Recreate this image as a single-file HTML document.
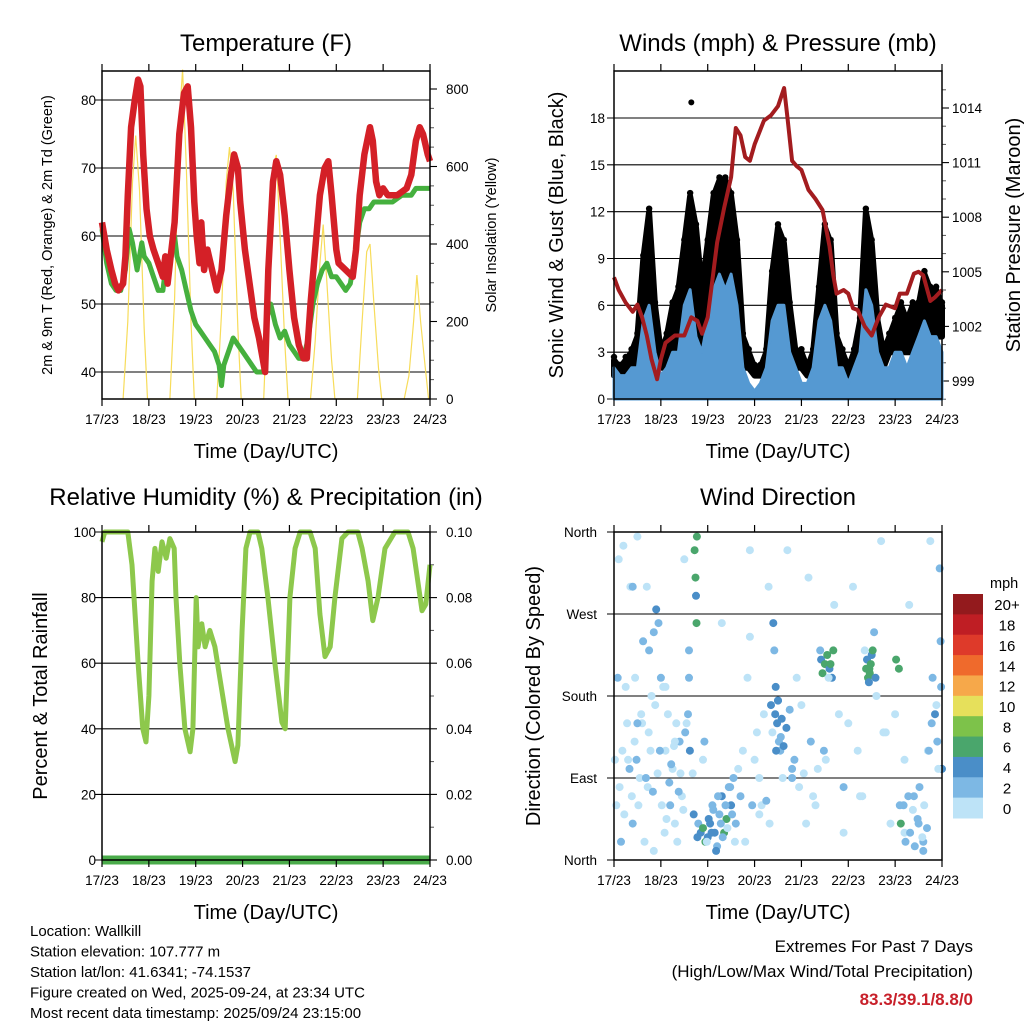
<!DOCTYPE html>
<html><head><meta charset="utf-8">
<style>
html,body{margin:0;padding:0;background:#fff;}
svg{display:block;font-family:"Liberation Sans",sans-serif;}
</style></head>
<body>
<svg id="chart" width="1024" height="1024" viewBox="0 0 1024 1024"></svg>
<script>
// ---------- DATA ----------
const dayLabels = ["17/23","18/23","19/23","20/23","21/23","22/23","23/23","24/23"];
const tempTicks = [40,50,60,70,80];
const solarTicks = [0,200,400,600,800];
const windTicks = [0,3,6,9,12,15,18];
const presTicks = [999,1002,1005,1008,1011,1014];
const rhTicks = [0,20,40,60,80,100];
const rainTicks = ["0.00","0.02","0.04","0.06","0.08","0.10"];
const dirTicks = ["North","East","South","West","North"];
const speedBins = ["0","2","4","6","8","10","12","14","16","18","20+"];

const tempT = [0,0.1,0.2,0.28,0.35,0.45,0.5,0.55,0.62,0.7,0.77,0.82,0.88,0.95,1.02,1.1,1.2,1.3,1.35,1.4,1.45,1.55,1.65,1.75,1.83,1.9,1.97,2.02,2.08,2.12,2.18,2.25,2.35,2.45,2.55,2.65,2.75,2.82,2.9,2.95,3.05,3.15,3.25,3.35,3.48,3.55,3.65,3.72,3.8,3.9,4.0,4.1,4.2,4.3,4.37,4.45,4.55,4.65,4.75,4.83,4.9,5.0,5.05,5.2,5.35,5.42,5.5,5.6,5.66,5.72,5.78,5.85,5.92,6.0,6.1,6.3,6.5,6.6,6.7,6.78,6.85,6.95,7.0];
const tempRed = [62,58,55,53,52,53,57,66,76,80,83,82,72,64,60,58,56,54,57,53,56,62,75,81,82,76,65,60,56,62,55,58,55,52,55,63,69,72,70,65,58,53,48,45,40,55,68,71,69,63,55,48,44,42,42,50,58,66,70,71,66,58,56,55,54,58,66,72,74,76,74,68,66,67,66,66,67,69,74,76,75,72,71];
const dewT = [0,0.1,0.2,0.3,0.4,0.5,0.58,0.65,0.7,0.75,0.85,0.9,1.0,1.1,1.2,1.3,1.35,1.45,1.55,1.6,1.7,1.8,1.9,2.0,2.1,2.2,2.3,2.4,2.5,2.55,2.6,2.7,2.8,2.9,3.0,3.1,3.2,3.3,3.4,3.45,3.52,3.6,3.7,3.8,3.9,4.0,4.1,4.2,4.3,4.4,4.5,4.6,4.7,4.8,4.9,5.0,5.1,5.2,5.3,5.4,5.5,5.6,5.7,5.8,5.9,6.0,6.2,6.4,6.6,6.7,6.8,7.0];
const dewGreen = [61,56,53,52,52,55,61,59,57,55,59,57,56,54,52,52,55,57,60,57,55,52,49,47,46,45,44,43,41,38,41,43,45,44,43,42,41,40,40,40,48,50,47,45,46,44,43,42,42,45,50,53,55,56,54,54,53,52,53,57,62,64,64,65,65,65,65,66,66,67,67,67];
const solarT = [0.45,0.55,0.65,0.72,0.8,0.9,0.97, 1.45,1.55,1.65,1.72,1.8,1.9,1.97, 2.45,2.55,2.65,2.72,2.8,2.9,2.97, 3.45,3.55,3.65,3.72,3.8,3.9,3.97, 4.45,4.55,4.65,4.72,4.8,4.9,4.97, 5.45,5.55,5.65,5.72,5.8,5.9,5.97, 6.45,6.55,6.65,6.72,6.8,6.9,6.97];
const solar = [0,200,560,680,540,180,0, 0,260,720,850,600,200,0, 0,220,560,650,540,180,0, 0,300,600,630,420,150,0, 0,150,350,450,300,100,0, 0,200,380,400,250,80,0, 0,60,200,320,200,80,0];
const gustHi = [2.5,2,2.5,3,4,9,12,6, 3,4,6,7,10,13,11,7, 10,13,14,14,13,10,4,3, 2,2,3,8,11,10,6,3, 3,2,3,7,11,10,4,3, 2,3,5,12,10,5,3,4, 5,6,5,6,6,8,7,7,6];
const gustLo = [1.5,1.5,1.5,2,2,4,5,3, 2,2,3,3,5,6,4,3, 4,6,7,6,6,5,2,2, 1.5,1.5,2,4,5,5,3,2, 2,1.5,2,4,5,4,2.5,2, 1.5,2,3,5,5,3,2,3, 3,3,3,3,4,4,4,4,4];
const windHi = [2,1.5,1.5,2,2,5,6,3, 1.5,2,3,3,6,7,4,3, 5,7,8,7,8,6,2,1, 0.5,1,2,5,6,6,3,2, 1,1,2,5,6,5,2,2, 1,2,3,7,6,3,2,2, 3,3,2,3,4,5,4,4,3];
const gustOutT = [1.65];
const gustOutV = [19];
const presT = [0,0.1,0.25,0.4,0.5,0.6,0.7,0.8,0.92,1.0,1.1,1.3,1.5,1.65,1.78,1.88,2.0,2.2,2.35,2.5,2.6,2.7,2.8,2.9,3.0,3.2,3.35,3.5,3.63,3.7,3.8,3.9,4.0,4.15,4.3,4.45,4.6,4.68,4.75,4.9,5.0,5.1,5.2,5.35,5.5,5.65,5.8,6.0,6.1,6.25,6.4,6.5,6.6,6.75,6.85,7.0];
const presV = [1004.7,1004,1003.3,1002.8,1003.2,1002.5,1001.5,1000.2,999.1,1000.2,1001.1,1001.5,1001.5,1002.5,1002.3,1001.6,1002.5,1006.6,1008.5,1010.2,1012.9,1012.5,1011.3,1011.1,1012,1013.3,1013.6,1014.1,1015.1,1013.5,1011.1,1010.8,1010.6,1009.5,1009,1008.4,1006.4,1004.8,1003.8,1004,1003.8,1003,1002.9,1002,1001.5,1002.5,1003.2,1003,1003.8,1003.8,1004.9,1005,1004.8,1003.4,1003.6,1004];
const rhT = [0,0.06,0.55,0.64,0.77,0.87,0.94,1.0,1.07,1.13,1.2,1.28,1.37,1.45,1.54,1.58,1.66,1.77,1.88,1.94,2.01,2.05,2.13,2.2,2.3,2.41,2.52,2.69,2.84,2.9,2.99,3.07,3.16,3.33,3.41,3.54,3.69,3.84,3.91,4.01,4.12,4.23,4.44,4.55,4.65,4.76,4.87,4.97,5.12,5.25,5.46,5.55,5.68,5.78,5.89,6.04,6.25,6.53,6.64,6.74,6.83,6.91,7.0];
const rhV = [97,100,100,90,60,40,36,50,85,95,88,97,92,98,95,80,60,40,33,40,80,65,72,65,70,65,55,40,30,35,70,95,100,100,95,80,60,42,40,80,95,100,100,95,75,62,65,80,98,100,100,95,85,73,80,95,100,100,95,85,76,78,90];
const rainT = [0,7];
const rainV = [0,0];
const dirT = [0.05,0.1,0.15,0.2,0.3,0.35,0.4,0.45,0.5,0.55,0.6,0.62,0.65,0.7,0.72,0.75,0.78,0.8,0.85,0.9,0.95,1.0,1.05,1.1,1.15,1.2,1.25,1.3,1.35,1.4,1.45,1.5,1.55,1.6,1.7,1.72,1.74,1.75,1.76,1.77,1.78,1.8,1.85,1.9,1.95,2.0,2.05,2.1,2.15,2.2,2.25,2.3,2.35,2.4,2.45,2.5,2.55,2.6,2.65,2.7,2.75,2.8,2.85,2.9,2.95,3.0,3.05,3.1,3.15,3.2,3.3,3.35,3.4,3.42,3.45,3.48,3.5,3.52,3.55,3.6,3.7,3.8,3.9,4.0,4.1,4.2,4.3,4.4,4.42,4.45,4.5,4.55,4.6,4.65,4.7,4.8,4.9,5.0,5.1,5.2,5.3,5.35,5.4,5.42,5.45,5.5,5.55,5.6,5.7,5.8,5.9,6.0,6.1,6.2,6.3,6.4,6.5,6.6,6.7,6.75,6.8,6.85,6.9,6.95,7.0,0.25,0.5,0.85,1.3,1.6,2.9,3.1,3.8,4.15,5.25,6.2,6.6,0.4,1.1,2.3,4.9,5.75,
 0.02,0.08,0.12,0.18,0.22,0.28,0.33,0.38,0.44,0.48,0.52,0.58,0.68,0.74,0.83,0.88,0.93,0.98,1.02,1.08,1.12,1.18,1.22,1.28,1.33,1.38,1.42,1.48,1.52,1.58,1.62,1.68,1.9,1.93,1.98,2.02,2.08,2.12,2.18,2.22,2.28,2.32,2.38,2.42,2.48,2.52,2.58,3.25,3.32,3.38,3.44,3.46,3.5,3.56,3.58,3.62,3.68,3.75,3.85,3.95,4.05,4.25,4.35,4.48,4.52,4.58,4.62,4.68,5.38,5.44,5.46,5.48,5.52,5.58,6.02,6.08,6.12,6.18,6.22,6.28,6.32,6.38,6.42,6.48,6.52,6.58,6.62,6.68,6.72,6.78,6.88,6.92,6.98,6.97];
const dirV = [60,330,20,345,110,300,40,200,355,90,150,240,20,300,80,230,120,180,250,275,260,200,190,120,160,60,100,40,20,130,70,330,150,230,50,340,310,290,260,355,25,40,30,35,20,25,40,60,30,15,50,70,30,45,80,60,90,40,100,70,120,20,200,340,60,110,140,90,60,160,300,170,260,230,190,150,175,130,120,90,340,100,200,170,40,130,60,230,220,205,215,225,210,200,280,160,80,150,300,120,70,230,220,200,210,225,250,180,350,140,40,160,60,30,280,70,40,10,120,350,200,160,130,320,100,190,150,10,130,200,245,50,90,310,70,110,20,300,190,260,30,140,110,200,
 80,120,50,150,100,70,130,110,60,160,90,140,75,170,95,120,60,30,45,85,105,125,150,75,95,55,140,160,120,95,110,130,20,45,30,55,10,70,40,25,60,35,80,50,20,65,40,140,160,120,175,135,155,125,145,165,110,80,95,70,100,120,110,200,215,230,210,195,205,215,230,200,220,210,40,60,20,70,30,55,15,45,80,25,60,35,120,150,170,100,190,240,280,330];
const dirS = [0,1,2,0,1,0,2,1,0,1,0,2,1,0,1,2,0,1,3,4,3,2,1,0,1,2,1,0,1,2,1,0,1,2,4,6,7,5,6,6,4,3,4,6,7,5,4,3,4,2,3,5,6,7,3,4,3,2,1,2,1,0,1,0,2,1,0,1,1,0,0,4,4,3,4,5,4,3,2,1,0,2,0,1,0,2,1,2,5,7,6,7,5,4,1,0,2,1,0,1,0,1,4,6,7,5,3,1,0,1,0,1,2,0,1,2,3,2,1,0,2,4,3,2,4,1,3,0,1,2,0,1,2,0,1,0,2,2,1,0,0,1,0,2,1,
 0,1,0,2,1,0,2,0,1,2,0,3,1,0,2,1,0,1,2,3,1,0,2,1,0,2,3,4,1,0,2,1,4,5,3,4,3,2,3,2,1,3,2,1,2,1,0,4,5,4,3,5,4,4,3,2,1,0,1,0,2,1,0,6,7,6,5,7,6,7,5,6,7,6,2,3,2,3,1,2,3,2,1,0,2,3,2,1,0,2,3,4,3,1];
const extremes = "83.3/39.1/8.8/0";

// ---------- HELPERS ----------
const NS = "http://www.w3.org/2000/svg";
const svg = document.getElementById("chart");
function mk(tag, attrs, parent){
  const e = document.createElementNS(NS, tag);
  for (const k in attrs) e.setAttribute(k, attrs[k]);
  (parent||svg).appendChild(e);
  return e;
}
function txt(s, x, y, size, anchor, parent, extra){
  const a = {x:x, y:y, "font-size":size, "text-anchor":anchor||"middle", fill:"#000"};
  if (extra) for (const k in extra) a[k]=extra[k];
  const t = mk("text", a, parent);
  t.textContent = s;
  return t;
}
function lin(d0,d1,r0,r1){ return v => r0 + (v-d0)*(r1-r0)/(d1-d0); }
function pathFrom(xs, ys, xf, yf){
  let d = "";
  for (let i=0;i<xs.length;i++) d += (i?"L":"M") + xf(xs[i]).toFixed(1) + "," + yf(ys[i]).toFixed(1);
  return d;
}
function idxDays(n){ const a=[]; for(let i=0;i<n;i++) a.push(i/8); return a; }

function panelFrame(g, L, T, R, B, xf){
  for (let i=0;i<dayLabels.length;i++){
    const x = xf(i);
    const tb = mk("line",{x1:x,y1:B,x2:x,y2:B+7,stroke:"#000","stroke-width":1.2},g);
    
    
    const tt = mk("line",{x1:x,y1:T,x2:x,y2:T-7,stroke:"#000","stroke-width":1.2},g);
    
    
    const lb = txt(dayLabels[i], x, B+25, 13.5, "middle", g);
    
    
  }
  const box = mk("rect",{x:L,y:T,width:R-L,height:B-T,fill:"none",stroke:"#000","stroke-width":1.5},g);
  
  
  const xt = txt("Time (Day/UTC)", (L+R)/2, B+59, 20, "middle", g);
  
  
}
function hgrid(g, L, R, y, lbl, lx, anchor, size){
  const gl = mk("line",{x1:L-7,y1:y,x2:R,y2:y,stroke:"#000","stroke-width":1.1},g);
  
  
  if (lbl!==null){
    const t = txt(lbl, lx, y+5, size||13.5, anchor||"end", g);
    
    
  }
}
function rtick(g, R, y, lbl, lx){
  const t1 = mk("line",{x1:R,y1:y,x2:R+7,y2:y,stroke:"#000","stroke-width":1.1},g);
  
  
  if (lbl!==null){
    const t = txt(lbl, lx, y+5, 13.5, "start", g);
    
    
  }
}
function rminor(g, R, y){
  const t1 = mk("line",{x1:R,y1:y,x2:R+4,y2:y,stroke:"#555","stroke-width":1},g);
  
  
}

// ---------- PANEL 1: TEMPERATURE ----------
(function(){
  const g = mk("g",{});
  
  
  const L=102,R=430,T=71,B=399;
  const xf = lin(0,7,L,R);
  const yf = lin(40,80,372,100);
  const sf = lin(0,800,399,89);
  const title = txt("Temperature (F)", 266, 51, 24, "middle", g);
  
  
  tempTicks.forEach(v=>hgrid(g,L,R,yf(v),String(v),96));
  solarTicks.forEach(v=>rtick(g,R,sf(v),String(v),446));
  for (let v=50; v<800; v+=50) if (v%200) rminor(g,R,sf(v));
  const sp = mk("path",{d:pathFrom(solarT,solar,xf,sf),fill:"none",stroke:"#f7dc5a","stroke-width":1.2},g);
  
  
  const dp = mk("path",{d:pathFrom(dewT,dewGreen,xf,yf),fill:"none",stroke:"#45b03e","stroke-width":5,"stroke-linejoin":"round"},g);
  
  
  const tp = mk("path",{d:pathFrom(tempT,tempRed,xf,yf),fill:"none",stroke:"#d42027","stroke-width":6.5,"stroke-linejoin":"round"},g);
  
  
  panelFrame(g,L,T,R,B,xf);
  const yl = txt("2m & 9m T (Red, Orange) & 2m Td (Green)", 0,0,14.5,"middle",g,{transform:"translate(52,235) rotate(-90)"});
  
  
  const yr = txt("Solar Insolation (Yellow)", 0,0,14.5,"middle",g,{transform:"translate(496,235) rotate(-90)"});
  
  
})();

// ---------- PANEL 2: WINDS & PRESSURE ----------
(function(){
  const g = mk("g",{});
  
  
  const L=614,R=942,T=71,B=399;
  const xf = lin(0,7,L,R);
  const yf = lin(0,18,399,118);
  const pf = lin(999,1014,381,108);
  const title = txt("Winds (mph) & Pressure (mb)", 778, 51, 24, "middle", g);
  
  
  windTicks.forEach(v=>hgrid(g,L,R,yf(v),String(v),605));
  presTicks.forEach(v=>rtick(g,R,pf(v),String(v),952));
  for (let v=998; v<=1015; v++) if ((v-999)%3) rminor(g,R,pf(v));
  const t = idxDays(gustHi.length);
  let d = "";
  for (let i=0;i<t.length;i++) d += (i?"L":"M")+xf(t[i]).toFixed(1)+","+yf(gustHi[i]).toFixed(1);
  for (let i=t.length-1;i>=0;i--) d += "L"+xf(t[i]).toFixed(1)+","+yf(gustLo[i]).toFixed(1);
  d += "Z";
  const gp = mk("path",{d:d,fill:"#000",stroke:"#000","stroke-width":6,"stroke-linejoin":"round"},g);
  
  
  for (let i=0;i<t.length;i++){
    const c = mk("circle",{cx:xf(t[i]),cy:yf(gustHi[i])-3,r:3.2},g);
    
    
  }
  gustOutT.forEach((tv,i)=>{
    const c = mk("circle",{cx:xf(tv),cy:yf(gustOutV[i]),r:3},g);
    
    
  });
  let d2 = "M"+xf(0)+","+yf(0);
  for (let i=0;i<t.length;i++) d2 += "L"+xf(t[i]).toFixed(1)+","+yf(windHi[i]).toFixed(1);
  d2 += "L"+xf(t[t.length-1])+","+yf(0)+"Z";
  const wp = mk("path",{d:d2,fill:"#5599d2",stroke:"#5599d2","stroke-width":3,"stroke-linejoin":"round"},g);
  
  
  const pp = mk("path",{d:pathFrom(presT,presV,xf,pf),fill:"none",stroke:"#a31c1f","stroke-width":4,"stroke-linejoin":"round"},g);
  
  
  panelFrame(g,L,T,R,B,xf);
  const yl = txt("Sonic Wind & Gust (Blue, Black)", 0,0,20,"middle",g,{transform:"translate(563,235) rotate(-90)"});
  
  
  const yr = txt("Station Pressure (Maroon)", 0,0,20,"middle",g,{transform:"translate(1020,235) rotate(-90)"});
  
  
})();

// ---------- PANEL 3: RH & PRECIP ----------
(function(){
  const g = mk("g",{});
  
  
  const L=102,R=430,T=532,B=860;
  const xf = lin(0,7,L,R);
  const yf = lin(0,100,860,532);
  const title = txt("Relative Humidity (%) & Precipitation (in)", 266, 505, 24, "middle", g);
  
  
  rhTicks.forEach(v=>hgrid(g,L,R,yf(v),String(v),96));
  rainTicks.forEach((v,i)=>rtick(g,R,yf(i*20),v,446));
  for (let v=10; v<100; v+=20) rminor(g,R,yf(v));
  const rp = mk("path",{d:pathFrom(rainT,rainV,xf,v=>yf(v*1000)),fill:"none",stroke:"#4aab4a","stroke-width":9},g);
  
  
  const hp = mk("path",{d:pathFrom(rhT,rhV,xf,yf),fill:"none",stroke:"#8dc84c","stroke-width":5,"stroke-linejoin":"round"},g);
  
  
  panelFrame(g,L,T,R,B,xf);
  const yl = txt("Percent & Total Rainfall", 0,0,20,"middle",g,{transform:"translate(47,696) rotate(-90)"});
  
  
})();

// ---------- PANEL 4: WIND DIRECTION ----------
(function(){
  const g = mk("g",{});
  
  
  const L=614,R=942,T=532,B=860;
  const xf = lin(0,7,L,R);
  const yf = lin(0,360,860,532);
  const colors = ["#bde3f7","#7db8e4","#4a8ec8","#4aa66c","#7dc24a","#e6e05b","#f6a84a","#ef6a2c","#de3a2a","#bf1e24","#931a1d"];
  const title = txt("Wind Direction", 778, 505, 24, "middle", g);
  
  
  dirTicks.forEach((s,i)=>hgrid(g,L,R,yf(i*90),s,597,"end",13.5));
  for (let i=0;i<dirT.length;i++){
    const bin = Math.min(10, Math.floor(dirS[i]/2));
    const c = mk("circle",{cx:xf(dirT[i]).toFixed(1),cy:yf(dirV[i]).toFixed(1),r:4,fill:colors[bin]},g);
    
    
  }
  panelFrame(g,L,T,R,B,xf);
  const yl = txt("Direction (Colored By Speed)", 0,0,20,"middle",g,{transform:"translate(540,696) rotate(-90)"});
  
  
  const cb = mk("g",{},g);
  
  
  const mph = txt("mph", 990, 588, 14.5, "start", cb);
  
  
  const top=594, h=224/11;
  for (let i=0;i<speedBins.length;i++){
    const k = speedBins.length-1-i;
    const r = mk("rect",{x:953,y:top+i*h,width:30,height:h+0.5,fill:colors[k]},cb);
    
    
    const l = txt(speedBins[k], 1007, top+i*h+h/2+6, 15, "middle", cb);
    
    
  }
})();

// ---------- FOOTER ----------
(function(){
  const g = mk("g",{});
  
  
  const lines = ["Location: Wallkill","Station elevation: 107.777 m","Station lat/lon: 41.6341; -74.1537","Figure created on Wed, 2025-09-24, at 23:34 UTC","Most recent data timestamp: 2025/09/24 23:15:00"];
  lines.forEach((s,i)=>{
    const t = txt(s, 30, 936+i*20.5, 15, "start", g);
    
    
  });
  const g2 = mk("g",{});
  
  
  const a = txt("Extremes For Past 7 Days", 973, 952, 17, "end", g2);
  
  
  const b = txt("(High/Low/Max Wind/Total Precipitation)", 973, 977, 17, "end", g2);
  
  
  const c = txt(extremes, 973, 1005, 17, "end", g2, {fill:"#c8202a","font-weight":"bold"});
  
  
})();
</script>
</body></html>
